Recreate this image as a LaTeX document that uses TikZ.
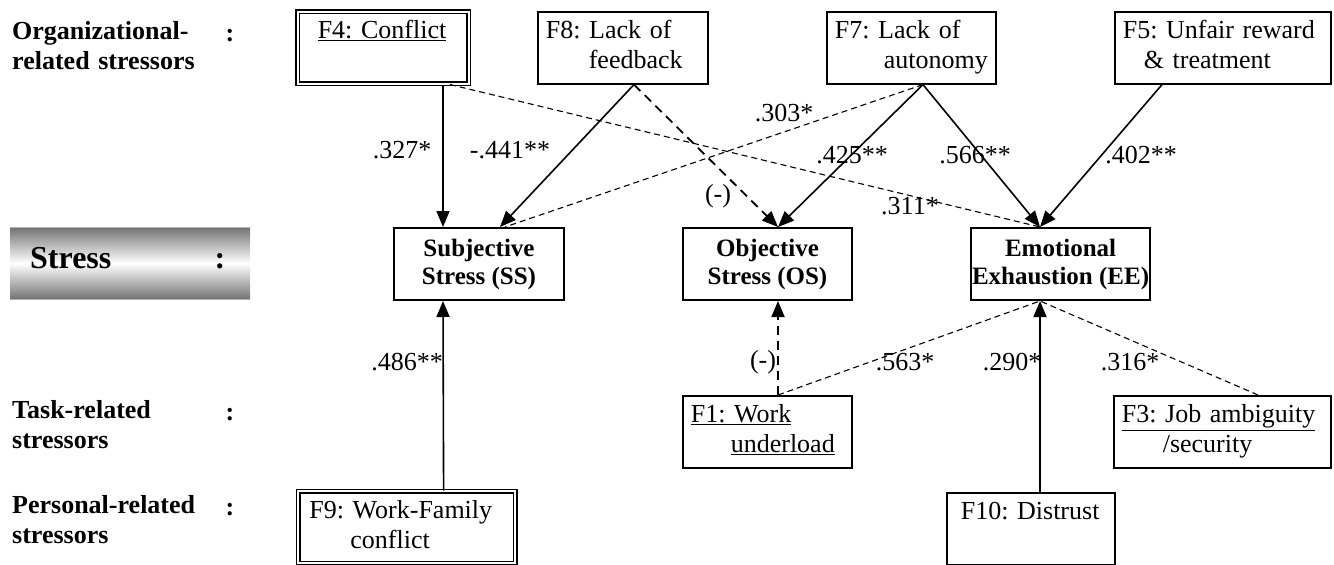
\documentclass[tikz,border=0pt]{standalone}
\usepackage{fontspec}
\setmainfont{Liberation Serif}
\usetikzlibrary{arrows.meta}
\newcommand{\fs}{\fontsize{26}{30}\selectfont\frenchspacing}
\begin{document}
\begin{tikzpicture}[x=1pt,y=-1pt,
  factor/.style={draw, line width=1.6pt, anchor=north west, align=left, inner xsep=8pt, inner ysep=6pt, font=\fs},
  twin/.style={factor, double, double distance=2pt, line width=1.5pt},
  stressbox/.style={draw, line width=2pt, anchor=north west, minimum width=170pt, minimum height=72pt, inner xsep=1pt, align=center, font=\fontsize{25}{28}\selectfont\bfseries},
  side/.style={anchor=north west, align=left, text width=230pt, inner sep=0pt, font=\fs\bfseries},
  colon/.style={anchor=base, inner sep=0pt, font=\fs\bfseries},
  coef/.style={inner sep=1pt, font=\fs},
  sig/.style={line width=1.6pt, -{Triangle[length=16pt,width=13pt]}},
  weak/.style={line width=1.1pt, dash pattern=on 6pt off 4pt},
  neg/.style={line width=1.8pt, dash pattern=on 9pt off 6pt, -{Triangle[length=16pt,width=13pt]}}]
\useasboundingbox (0,0) rectangle (1334,565);
% left column
\node[side] (org) at (12,18) {\strut Organizational-\\related stressors};
\node[colon] (orgc) at (230,41) {:};
\node[shade, top color=black!55, bottom color=black!55, middle color=white, minimum width=240pt, minimum height=72pt, anchor=north west, inner sep=0pt] (stresslbl) at (10,227) {};
\draw[black!30] (stresslbl.north west) -- (stresslbl.north east) (stresslbl.south west) -- (stresslbl.south east);
\node[anchor=base west, inner sep=0pt, font=\fontsize{32}{36}\selectfont\bfseries] (stresst) at (30,268) {Stress};
\node[anchor=base, inner sep=0pt, font=\fontsize{32}{36}\selectfont\bfseries] (stressc) at (220,268) {:};
\node[side] (task) at (12,397) {\strut Task-related\\stressors};
\node[colon] (taskc) at (230,420) {:};
\node[side] (pers) at (12,492) {\strut Personal-related\\stressors};
\node[colon] (persc) at (230,515) {:};
% factors
\node[twin, text width=155pt] (f4) at (297,11) {\hspace*{12pt}\underline{F4: Conflict}\strut\\\strut};
\node[factor, text width=154pt] (f8) at (537,11) {\strut F8: Lack of\\\hspace*{43pt}feedback\strut};
\node[factor, text width=153pt] (f7) at (826,11) {\strut F7: Lack of\\\hspace*{49pt}autonomy\strut};
\node[factor, text width=200pt] (f5) at (1114,11) {\strut F5: Unfair reward\\\hspace*{21pt}\& treatment\strut};
\node[stressbox] (ss) at (393,227) {Subjective\\Stress (SS)};
\node[stressbox, minimum width=169pt] (os) at (682,227) {Objective\\Stress (OS)};
\node[stressbox] (ee) at (970,227) {Emotional\\Exhaustion (EE)};
\node[factor, text width=153pt] (f1) at (682,395) {\strut\underline{F1: Work}\\\hspace*{40pt}\underline{underload}\strut};
\node[factor, text width=201pt] (f3) at (1113,395) {\strut\underline{F3: Job ambiguity}\\\hspace*{41pt}/security\strut};
\node[twin, text width=201pt] (f9) at (297.6,490.6) {\hspace*{3pt}F9: Work-Family\strut\\\hspace*{44pt}conflict\strut};
\node[factor, text width=152pt] (f10) at (946,492) {\hspace*{6pt}F10: Distrust\strut\\\strut};
% paths
\draw[sig] ([xshift=146pt]f4.south west) -- ([xshift=50pt]ss.north west);
\draw[sig] ([xshift=97pt]f8.south west) -- ([xshift=107pt]ss.north west);
\draw[weak] ([xshift=97pt]f7.south west) -- ([xshift=112pt]ss.north west);
\draw[neg] ([xshift=97pt]f8.south west) -- ([xshift=96pt]os.north west);
\draw[sig] ([xshift=97pt]f7.south west) -- ([xshift=96pt]os.north west);
\draw[sig] ([xshift=97pt]f7.south west) -- ([xshift=70pt]ee.north west);
\draw[sig] ([xshift=48pt]f5.south west) -- ([xshift=70pt]ee.north west);
\draw[weak] ([xshift=153pt]f4.south west) -- ([xshift=70pt]ee.north west);
\draw[sig] ([xshift=146pt]f9.north west) -- ([xshift=50pt]ss.south west);
\draw[neg] ([xshift=96pt]f1.north west) -- ([xshift=96pt]os.south west);
\draw[weak] ([xshift=96pt]f1.north west) -- ([xshift=70pt]ee.south west);
\draw[sig] ([xshift=94pt]f10.north west) -- ([xshift=70pt]ee.south west);
\draw[weak] ([xshift=145pt]f3.north west) -- ([xshift=70pt]ee.south west);
% coefficients
\node[coef] (c327) at (402,150) {.327*};
\node[coef] (c441) at (510,150) {-.441**};
\node[coef] (c303) at (784,113) {.303*};
\node[coef] (cneg1) at (718,196) {(-)};
\node[coef] (c425) at (852,155) {.425**};
\node[coef] (c566) at (975,155) {.566**};
\node[coef] (c402) at (1141,155) {.402**};
\node[coef] (c311) at (910,206) {.311*};
\node[coef] (c486) at (407,362) {.486**};
\node[coef] (cneg2) at (763,362) {(-)};
\node[coef] (c563) at (905,362) {.563*};
\node[coef] (c290) at (1012,362) {.290*};
\node[coef] (c316) at (1130,362) {.316*};
\end{tikzpicture}
\end{document}
